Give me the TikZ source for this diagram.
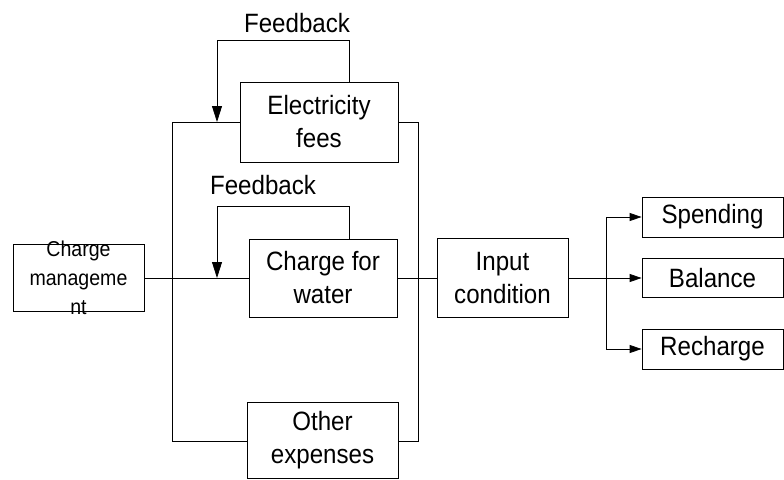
\documentclass[tikz,border=0pt]{standalone}
\usepackage{fontspec}
\setmainfont{Liberation Sans}
\newfontfamily\tallfont[FakeStretch=0.91]{Liberation Sans}
\usetikzlibrary{arrows.meta}
\begin{document}
\begin{tikzpicture}[x=1pt,y=-1pt,
  line width=0.8pt,
  box/.style={draw,line width=0.8pt,inner sep=0pt,align=center,
    font=\tallfont\fontsize{26.5}{33}\selectfont},
  lbl/.style={inner sep=0pt,font=\tallfont\fontsize{26.5}{33}\selectfont},
  small/.style={inner sep=0pt,align=center,font=\tallfont\fontsize{21.5}{29}\selectfont},
  arr/.style={-{Triangle[length=12pt,width=8pt]}},
  fbarr/.style={-{Triangle[length=16pt,width=10pt]}}]
\useasboundingbox (0,0) rectangle (784,479);
\clip (0,0) rectangle (784,479);
% boxes
\node[box,minimum width=131,minimum height=67] (cm) at (78.5,278) {};
\node[small] (cmt) at (78.5,278) {Charge\\manageme\\nt};
\node[box,minimum width=158,minimum height=80] (ef) at (319,122) {Electricity\\fees};
\node[box,minimum width=148,minimum height=78] (cw) at (323,278) {Charge for\\water};
\node[box,minimum width=151,minimum height=76] (oe) at (322.5,440) {Other\\expenses};
\node[box,minimum width=131,minimum height=79] (ic) at (502.5,278) {Input\\condition};
\node[box,minimum width=141,minimum height=40] (sp) at (712.5,217) {Spending};
\node[box,minimum width=141,minimum height=39] (ba) at (712.5,278) {Balance};
\node[box,minimum width=141,minimum height=40] (re) at (712.5,349) {Recharge};
% labels
\node[lbl] (fbt1) at (297,23) {Feedback};
\node[lbl] (fbt2) at (263,185) {Feedback};
% bus coordinates
\coordinate (lt) at (172,122);
\coordinate (lb) at (172,441);
\coordinate (rt) at (418,122);
\coordinate (rb) at (418,441);
\coordinate (fb1) at (217,40);
\coordinate (fb2) at (217,206);
\coordinate (br) at (606,278);
% connectors
\draw (ef.west) -- (lt) -- (lb) -- (oe.west |- lb);
\draw (ef.east) -- (rt) -- (rb) -- (oe.east |- rb);
\draw (cm.east) -- (cw.west);
\draw (cw.east) -- (ic.west);
\draw[fbarr] ([xshift=30pt]ef.north) |- (fb1) -- (fb1 |- ef.west);
\draw[fbarr] ([xshift=26pt]cw.north) |- (fb2) -- (fb2 |- cw.west);
\draw[arr] (ic.east) -- (ba.west);
\draw[arr] (br) |- (sp.west);
\draw[arr] (br) |- (re.west);
\end{tikzpicture}
\end{document}
